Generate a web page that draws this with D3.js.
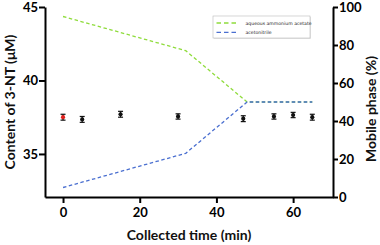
<!DOCTYPE html>
<html>
<head>
<meta charset="utf-8">
<script src="https://cdn.jsdelivr.net/npm/d3@7"></script>
<style>
  body { margin: 0; background: #fff; }
  svg { display: block; }
  .axis path, .axis line { stroke: #000; stroke-width: 2; }
  .axis text { font-family: Lato, sans-serif; font-weight: bold; font-size: 13px; fill: #000; }
  .axis-labels { font-family: Lato, sans-serif; font-weight: bold; font-size: 14px; fill: #111; }
  .legend-text { font-family: "DejaVu Sans", sans-serif; font-size: 4.6px; fill: #222; }
</style>
</head>
<body>
<svg width="380" height="245"></svg>
<script>
// data
const timePoints = [0, 5, 15, 30, 47, 55, 60, 65];
const content = [37.5, 37.35, 37.7, 37.55, 37.4, 37.55, 37.65, 37.5];
const contentErr = [0.2, 0.2, 0.2, 0.18, 0.2, 0.18, 0.18, 0.2];

const gradientTime = [0, 32, 48, 65];
const aqueous = [95, 77, 50, 50];
const acetonitrile = [5, 23, 50, 50];

const leftTicks = [35, 40, 45];
const rightTicks = [0, 20, 40, 60, 80, 100];
const xTicks = [0, 20, 40, 60];

const seriesNames = ["aqueous ammonium acetate", "acetonitrile"];
const seriesColors = ["#8fdc3c", "#4a6fd0"];

// layout
const plotLeft = 45, plotRight = 333, plotTop = 7, plotBottom = 197;

const svg = d3.select("svg");

const xScale = d3.scaleLinear().domain([-4.7, 70.4]).range([plotLeft, plotRight]);
const yLeft = d3.scaleLinear().domain([32.07, 45]).range([plotBottom, plotTop]);
const yRight = d3.scaleLinear().domain([0, 100]).range([plotBottom, plotTop]);

// gradient lines (right axis)
const line = d3.line()
    .x((d, i) => xScale(gradientTime[i]))
    .y(d => yRight(d));

[aqueous, acetonitrile].forEach((s, k) => {
    svg.append("path")
        .datum(s)
        .attr("d", line)
        .attr("fill", "none")
        .attr("stroke", seriesColors[k])
        .attr("stroke-width", 1.3)
        .attr("stroke-dasharray", "3.5,2.5");
});

// error bars + points (left axis)
const pts = timePoints.map((t, i) => ({t: t, v: content[i], e: contentErr[i], first: i == 0}));

const g = svg.append("g");
g.selectAll(".eb")
    .data(pts)
    .join("line")
    .attr("class", "eb")
    .attr("x1", d => xScale(d.t))
    .attr("x2", d => xScale(d.t))
    .attr("y1", d => yLeft(d.v - d.e))
    .attr("y2", d => yLeft(d.v + d.e))
    .attr("stroke", "#111")
    .attr("stroke-width", 1.2);

[1, -1].forEach(sgn => {
    g.selectAll(".cap" + (sgn > 0 ? "up" : "dn"))
        .data(pts)
        .join("line")
        .attr("class", "cap" + (sgn > 0 ? "up" : "dn"))
        .attr("x1", d => xScale(d.t) - 2.5)
        .attr("x2", d => xScale(d.t) + 2.5)
        .attr("y1", d => yLeft(d.v + sgn * d.e))
        .attr("y2", d => yLeft(d.v + sgn * d.e))
        .attr("stroke", "#111")
        .attr("stroke-width", 1.2);
});

g.selectAll("circle")
    .data(pts)
    .join("circle")
    .attr("cx", d => xScale(d.t))
    .attr("cy", d => yLeft(d.v))
    .attr("r", 2.1)
    .attr("fill", d => d.first ? "#e0201c" : "#111");

// axes
svg.append("g")
    .attr("class", "axis")
    .attr("transform", "translate(0," + plotBottom + ")")
    .call(d3.axisBottom(xScale).tickValues(xTicks).tickSize(6).tickSizeOuter(0).tickPadding(5));

svg.append("g")
    .attr("class", "axis")
    .attr("transform", "translate(" + plotLeft + ",0)")
    .call(d3.axisLeft(yLeft).tickValues(leftTicks).tickSize(6).tickSizeOuter(0).tickPadding(1));

svg.append("g")
    .attr("class", "axis")
    .attr("transform", "translate(" + plotRight + ",0)")
    .call(d3.axisRight(yRight).tickValues(rightTicks).tickSize(5).tickSizeOuter(0).tickPadding(1));

// axis titles
svg.append("text")
    .attr("class", "axis-labels")
    .attr("text-anchor", "middle")
    .attr("transform", "translate(15,102) rotate(-90)")
    .text("Content of 3-NT (\u03bcM)");

svg.append("text")
    .attr("class", "axis-labels")
    .attr("text-anchor", "middle")
    .attr("transform", "translate(376,109) rotate(-90)")
    .text("Mobile phase (%)");

svg.append("text")
    .attr("class", "axis-labels")
    .attr("text-anchor", "middle")
    .attr("x", 189)
    .attr("y", 240)
    .text("Collected time (min)");

// legend
const legend = svg.append("g").attr("transform", "translate(213,16)");
legend.append("rect")
    .attr("x", 0.8).attr("y", 0.8)
    .attr("width", 97).attr("height", 22)
    .attr("fill", "#ddd");
legend.append("rect")
    .attr("width", 97).attr("height", 22)
    .attr("fill", "#fff")
    .attr("stroke", "#bbb")
    .attr("stroke-width", 0.6);

seriesNames.forEach((name, k) => {
    const y = 7 + k * 9.3;
    legend.append("line")
        .attr("x1", 3.5).attr("x2", 24.5)
        .attr("y1", y).attr("y2", y)
        .attr("stroke", seriesColors[k])
        .attr("stroke-width", 1.3)
        .attr("stroke-dasharray", "4.5,3");
    legend.append("text")
        .attr("class", "legend-text")
        .attr("x", 32.5)
        .attr("y", y + 1.6)
        .text(name);
});
</script>
</body>
</html>
